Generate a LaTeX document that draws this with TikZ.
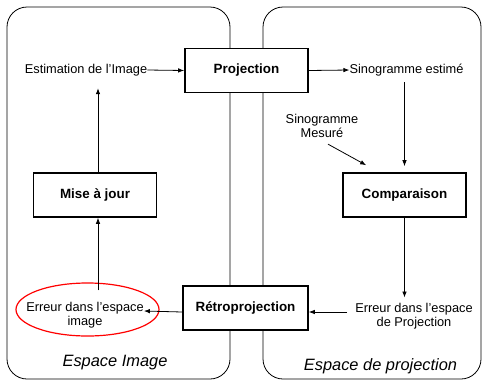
\documentclass[tikz,border=0pt]{standalone}
\usepackage{fontspec}
\setmainfont{Liberation Sans}
\usetikzlibrary{arrows.meta,shapes.geometric}

\begin{document}
\begin{tikzpicture}[x=1pt, y=-1pt,
    bloc/.style={draw, line width=1.6pt, fill=white, minimum width=123pt,
      minimum height=44pt, font=\fontsize{13.4}{16}\selectfont\bfseries},
    texte/.style={align=center, inner sep=0pt, font=\fontsize{12.8}{14.5}\selectfont},
    espace/.style={draw, line width=0.8pt, rounded corners=20pt},
    titre/.style={font=\fontsize{16.4}{19}\selectfont\itshape},
    fleche/.style={line width=0.8pt, -{Latex[length=6pt, width=4.5pt]}}]
    \useasboundingbox (0, 0) rectangle (482, 381);
    \pgfmathsetmacro{\haut}{7}
    \pgfmathsetmacro{\bas}{379}
    % les deux espaces
    \draw[espace] (7, \haut) rectangle (230, \bas);
    \draw[espace] (263, \haut) rectangle (481, \bas);
    \node[titre] (espimg) at (115, 363) {Espace Image};
    \node[titre] (espproj) at (380.5, 366) {Espace de projection};

    \node[bloc] (proj) at (246.5, 70.5) {Projection};
    \node[bloc, minimum width=125pt] (retro) at (245.5, 308) {Rétroprojection};
    \node[bloc] (maj) at (95, 195) {Mise à jour};
    \node[bloc] (comp) at (404.5, 195) {Comparaison};

    \node[texte] (estim) at (86, 70) {Estimation de l’Image};
    \node[texte] (sinoest) at (406.5, 70) {Sinogramme estimé};
    \node[texte] (mesure) at (322, 126) {Sinogramme\\Mesuré};
    \node[texte] (errproj) at (414, 316) {Erreur dans l’espace\\de Projection};
    \node[texte] (errimg) at (85, 315) {Erreur dans l’espace\\image};
    \node[draw=red, line width=1.2pt, ellipse, minimum width=143pt,
      minimum height=53pt] (ovale) at (87.5, 309.5) {};

    \draw[fleche] (estim.east) -- (proj.west);
    \draw[fleche] (proj.east) -- (sinoest.west);
    \draw[fleche, shorten <=6pt, shorten >=6pt] (sinoest.south -| comp.north) -- (comp.north);
    \draw[fleche] ([xshift=6pt, yshift=-6pt]mesure.south) -- ([xshift=24pt, yshift=7pt]comp.north west);
    \draw[fleche, shorten >=5pt] (comp.south) -- (comp.south |- errproj.north);
    \draw[fleche] ([xshift=-8pt, yshift=4pt]errproj.west) -- ([yshift=-4pt]retro.east);
    \draw[fleche] ([yshift=-4pt]retro.west) -- ([yshift=4pt]errimg.east);
    \draw[fleche, shorten <=-8pt] ([xshift=3pt]ovale.north -| maj.south) -- ([xshift=3pt]maj.south);
    \draw[fleche, shorten >=12pt] ([xshift=3pt]maj.north) -- ([xshift=3pt]maj.north |- estim.south);
\end{tikzpicture}
\end{document}
